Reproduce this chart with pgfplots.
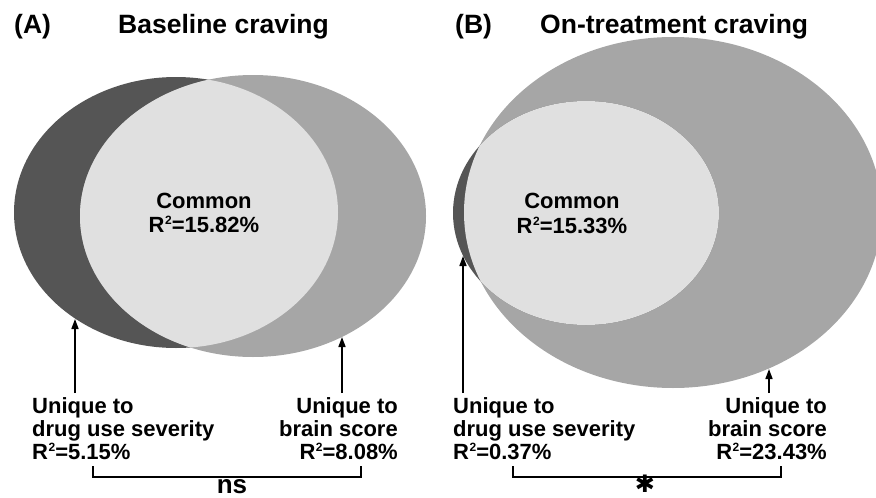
\documentclass[border=0pt]{standalone}
\usepackage{pgfplots}
\pgfplotsset{compat=1.18}
\usepackage{fontspec}
\setmainfont{Liberation Sans}
\newfontfamily\dejavu{DejaVu Sans}
\usetikzlibrary{arrows.meta}
\definecolor{cdark}{RGB}{85,85,85}
\definecolor{cmid}{RGB}{166,166,166}
\definecolor{clight}{RGB}{224,224,224}
\newcommand{\lab}{\fontsize{22}{24}\selectfont\bfseries}
\newcommand{\ttl}{\fontsize{26.5}{30}\selectfont\bfseries}
\newcommand{\Rsq}{R\kern0.5pt\raisebox{7.5pt}{\fontsize{12}{12}\selectfont\bfseries 2}}
\begin{document}
\begin{tikzpicture}
\begin{axis}[width=876pt,height=498pt,scale only axis,
  xmin=0,xmax=876,ymin=0,ymax=498,y dir=reverse,hide axis,clip=true]
% ---- Panel A ----
\fill[cdark] (176,212.5) ellipse [x radius=162,y radius=135.5];
\fill[cmid] (253,216) ellipse [x radius=173,y radius=141];
\begin{scope}
\clip (176,212.5) ellipse [x radius=162,y radius=135.5];
\fill[clight] (253,216) ellipse [x radius=173,y radius=141];
\end{scope}
% ---- Panel B ----
\fill[cmid] (673,212.5) ellipse [x radius=209,y radius=175.5];
\fill[cdark] (586,213) ellipse [x radius=133,y radius=112];
\begin{scope}
\clip (673,212.5) ellipse [x radius=209,y radius=175.5];
\fill[clight] (586,213) ellipse [x radius=133,y radius=112];
\end{scope}
% ---- arrows ----
\draw[line width=1.6pt,-{Triangle[length=10pt,width=7pt]}] (75,393) -- (75,319);
\draw[line width=1.6pt,-{Triangle[length=10pt,width=7pt]}] (342,393) -- (342,337);
\draw[line width=1.6pt,-{Triangle[length=10pt,width=7pt]}] (463,393) -- (463,256);
\draw[line width=1.6pt,-{Triangle[length=10pt,width=7pt]}] (769,393) -- (769,369);
% ---- brackets ----
\draw[line width=1.5pt] (93,466) -- (93,477) -- (361,477) -- (361,466);
\draw[line width=1.5pt] (513,466) -- (513,477) -- (781,477) -- (781,466);
% ---- titles ----
\node[anchor=base west,font=\ttl,inner sep=0pt] at (14,33) {(A)};
\node[anchor=base west,font=\ttl,inner sep=0pt] at (118,33) {Baseline craving};
\node[anchor=base west,font=\ttl,inner sep=0pt] at (455,33) {(B)};
\node[anchor=base west,font=\ttl,inner sep=0pt] at (540,33) {On-treatment craving};
% ---- common ----
\node[anchor=base,font=\lab,inner sep=0pt] at (204,208) {Common};
\node[anchor=base,font=\lab,inner sep=0pt] at (204,232) {\Rsq=15.82\%};
\node[anchor=base,font=\lab,inner sep=0pt] at (572,208) {Common};
\node[anchor=base,font=\lab,inner sep=0pt] at (572,233) {\Rsq=15.33\%};
% ---- unique labels A ----
\node[anchor=base west,font=\lab,inner sep=0pt] at (32,413) {Unique to};
\node[anchor=base west,font=\lab,inner sep=0pt] at (32,436) {drug use severity};
\node[anchor=base west,font=\lab,inner sep=0pt] at (32,459) {\Rsq=5.15\%};
\node[anchor=base east,font=\lab,inner sep=0pt] at (398,413) {Unique to};
\node[anchor=base east,font=\lab,inner sep=0pt] at (398,436) {brain score};
\node[anchor=base east,font=\lab,inner sep=0pt] at (398,459) {\Rsq=8.08\%};
% ---- unique labels B ----
\node[anchor=base west,font=\lab,inner sep=0pt] at (453,413) {Unique to};
\node[anchor=base west,font=\lab,inner sep=0pt] at (453,436) {drug use severity};
\node[anchor=base west,font=\lab,inner sep=0pt] at (453,459) {\Rsq=0.37\%};
\node[anchor=base east,font=\lab,inner sep=0pt] at (827,413) {Unique to};
\node[anchor=base east,font=\lab,inner sep=0pt] at (827,436) {brain score};
\node[anchor=base east,font=\lab,inner sep=0pt] at (827,459) {\Rsq=23.43\%};
% ---- significance ----
\node[anchor=base,font=\fontsize{26}{28}\selectfont\bfseries,inner sep=0pt] at (232,493) {ns};
\node[anchor=base,font=\fontsize{24}{26}\selectfont,inner sep=0pt] at (645,492) {\dejavu ✱};
\end{axis}
\pgfresetboundingbox
\path[use as bounding box] (current axis.south west) rectangle (current axis.north east);
\end{tikzpicture}
\end{document}
